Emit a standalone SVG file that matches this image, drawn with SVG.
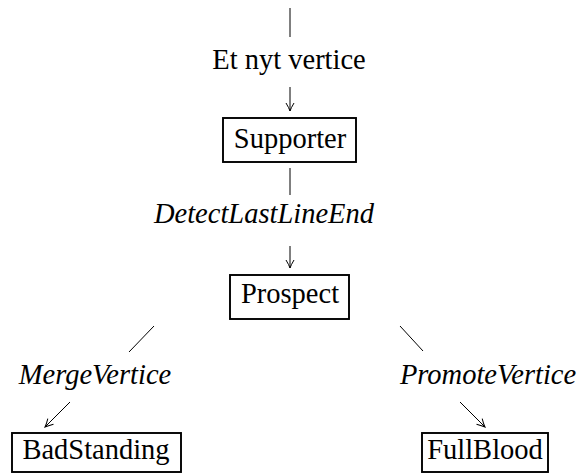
<svg xmlns="http://www.w3.org/2000/svg" width="581" height="474" viewBox="0 0 581 474">
<defs>
<style>
.box{fill:#fff;stroke:#000;stroke-width:1.9}
.t{font-family:"Liberation Serif","Times New Roman",serif;font-size:28.5px;fill:#000;text-anchor:middle}
.i{font-style:italic}
.ln{stroke:#000;stroke-width:1;fill:none}
</style>
<marker id="ah" viewBox="0 0 10 10" refX="9" refY="5" markerWidth="10" markerHeight="10" markerUnits="userSpaceOnUse" orient="auto">
<path d="M1,1 Q6,4 9,5 Q6,6 1,9" fill="none" stroke="#000" stroke-width="1"/>
</marker>
</defs>
<rect width="581" height="474" fill="#fff"/>
<g id="connectors">
<line class="ln" x1="290" y1="8" x2="290" y2="37"/>
<text class="t" x="289" y="69">Et nyt vertice</text>
<line class="ln" x1="290" y1="87" x2="290" y2="111" marker-end="url(#ah)"/>
<line class="ln" x1="290" y1="168" x2="290" y2="195"/>
<text class="t i" x="264" y="223">DetectLastLineEnd</text>
<line class="ln" x1="290" y1="246" x2="290" y2="268" marker-end="url(#ah)"/>
<line class="ln" x1="154" y1="326" x2="129" y2="352"/>
<text class="t i" x="95" y="384">MergeVertice</text>
<line class="ln" x1="70" y1="402" x2="45" y2="427" marker-end="url(#ah)"/>
<line class="ln" x1="400" y1="326" x2="423" y2="351"/>
<text class="t i" x="488" y="384">PromoteVertice</text>
<line class="ln" x1="460" y1="402" x2="485" y2="427" marker-end="url(#ah)"/>
</g>
<g id="supporter">
<rect class="box" x="223" y="118" width="133" height="44"/>
<text class="t" x="290" y="148">Supporter</text>
</g>
<g id="prospect">
<rect class="box" x="230" y="275" width="119" height="44"/>
<text class="t" x="290" y="303">Prospect</text>
</g>
<g id="badstanding">
<rect class="box" x="12" y="433" width="169" height="39"/>
<text class="t" x="96" y="459">BadStanding</text>
</g>
<g id="fullblood">
<rect class="box" x="422" y="433" width="126" height="39"/>
<text class="t" x="485" y="459">FullBlood</text>
</g>
</svg>
